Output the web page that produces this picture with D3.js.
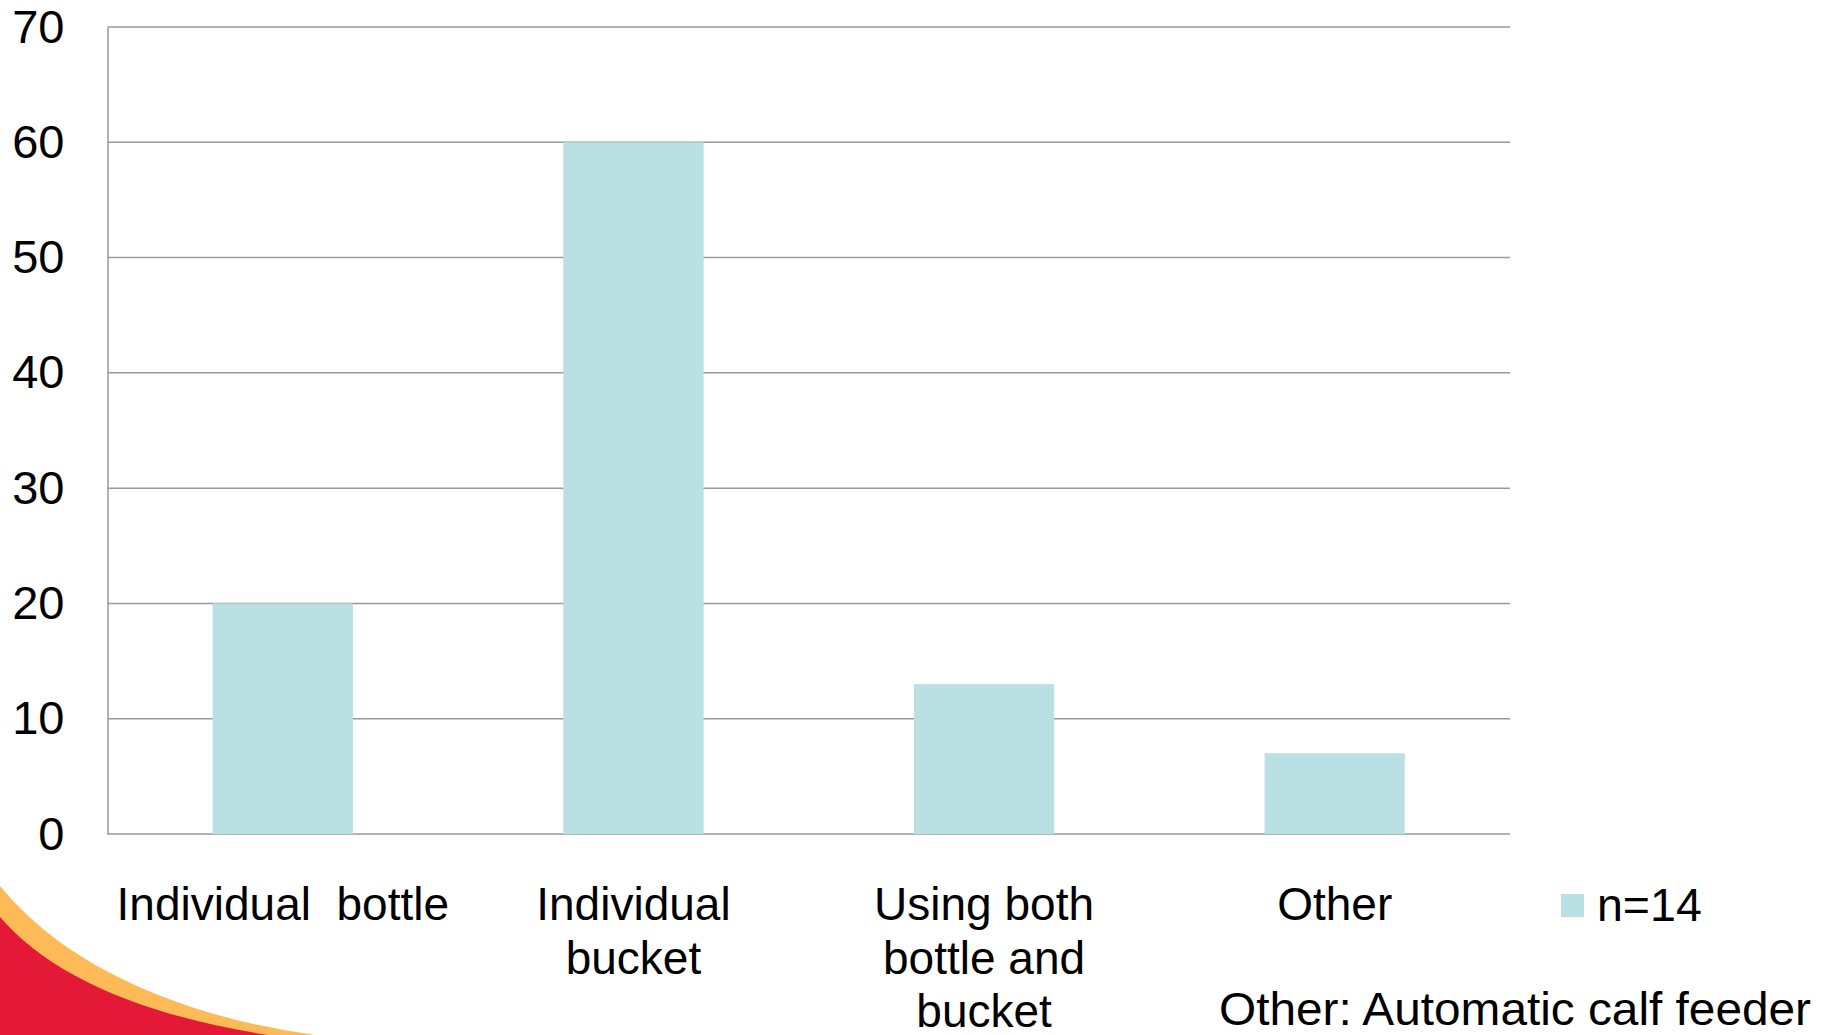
<!DOCTYPE html>
<html>
<head>
<meta charset="utf-8">
<script src="https://cdn.jsdelivr.net/npm/d3@7"></script>
<style>
  html, body { margin: 0; padding: 0; background: #ffffff; }
  svg { display: block; }
  text { font-family: "Liberation Sans", Arial, sans-serif; fill: #000; }
</style>
</head>
<body>
<svg id="chart" width="1835" height="1035"></svg>
<script>
// ---- data ----
const categories = ["Individual  bottle", "Individual bucket", "Using both bottle and bucket", "Other"];
const categoryLines = [["Individual  bottle"], ["Individual", "bucket"], ["Using both", "bottle and", "bucket"], ["Other"]];
const values = [20, 60, 13, 7];
const yTicks = [0, 10, 20, 30, 40, 50, 60, 70];
const seriesName = "n=14";
const footnote = "Other: Automatic calf feeder";

// ---- layout ----
const W = 1835, H = 1035;
const m = { left: 107.5, right: 1510, top: 27, bottom: 834 };
const svg = d3.select("#chart");

// decorative swoosh (bottom-left)
const deco = svg.append("g");
deco.append("path")
  .attr("d", `M0,886 C60,960 170,1015 315,1035 L0,1035 Z`)
  .attr("fill", "#FDBA57");
deco.append("path")
  .attr("d", `M0,917 C50,975 140,1015 268,1035 L0,1035 Z`)
  .attr("fill", "#E31937");

const x = d3.scaleBand().domain(categories).range([m.left, m.right])
  .paddingInner(0.6).paddingOuter(0.3);
const y = d3.scaleLinear().domain([0, 70]).range([m.bottom, m.top]);

// gridlines
svg.append("g").selectAll("line").data(yTicks).join("line")
  .attr("x1", m.left).attr("x2", m.right)
  .attr("y1", d => y(d)).attr("y2", d => y(d))
  .attr("stroke", "#9a9a9a").attr("stroke-width", 1.5);

// bars
svg.append("g").selectAll("rect").data(values).join("rect")
  .attr("x", (d, i) => x(categories[i]))
  .attr("width", x.bandwidth())
  .attr("y", d => y(d))
  .attr("height", d => y(0) - y(d))
  .attr("fill", "#B9E0E3");

// y axis
const yAxis = d3.axisLeft(y).tickValues(yTicks).tickSize(0).tickPadding(43).tickFormat(d3.format("d"));
const ya = svg.append("g").attr("transform", `translate(${m.left},0)`).call(yAxis);
ya.select(".domain").attr("stroke", "#9a9a9a").attr("stroke-width", 1.5);
ya.selectAll("text").attr("font-size", 47).attr("font-family", "Liberation Sans, Arial, sans-serif").attr("fill", "#000");

// x axis labels
const xl = svg.append("g");
categories.forEach((c, i) => {
  const t = xl.append("text")
    .attr("x", x(c) + x.bandwidth() / 2)
    .attr("y", 920)
    .attr("text-anchor", "middle")
    .attr("font-size", 46)
    .style("white-space", "pre");
  categoryLines[i].forEach((ln, j) => {
    t.append("tspan").attr("x", x(c) + x.bandwidth() / 2).attr("dy", j === 0 ? 0 : 53.5).text(ln);
  });
});

// legend
svg.append("rect").attr("x", 1561).attr("y", 894).attr("width", 23).attr("height", 23).attr("fill", "#B9E0E3");
svg.append("text").attr("x", 1597).attr("y", 921).attr("font-size", 46.5).text(seriesName);

// footnote
svg.append("text").attr("x", 1219).attr("y", 1025).attr("font-size", 47)
  .attr("textLength", 592).attr("lengthAdjust", "spacingAndGlyphs").text(footnote);
</script>
</body>
</html>
